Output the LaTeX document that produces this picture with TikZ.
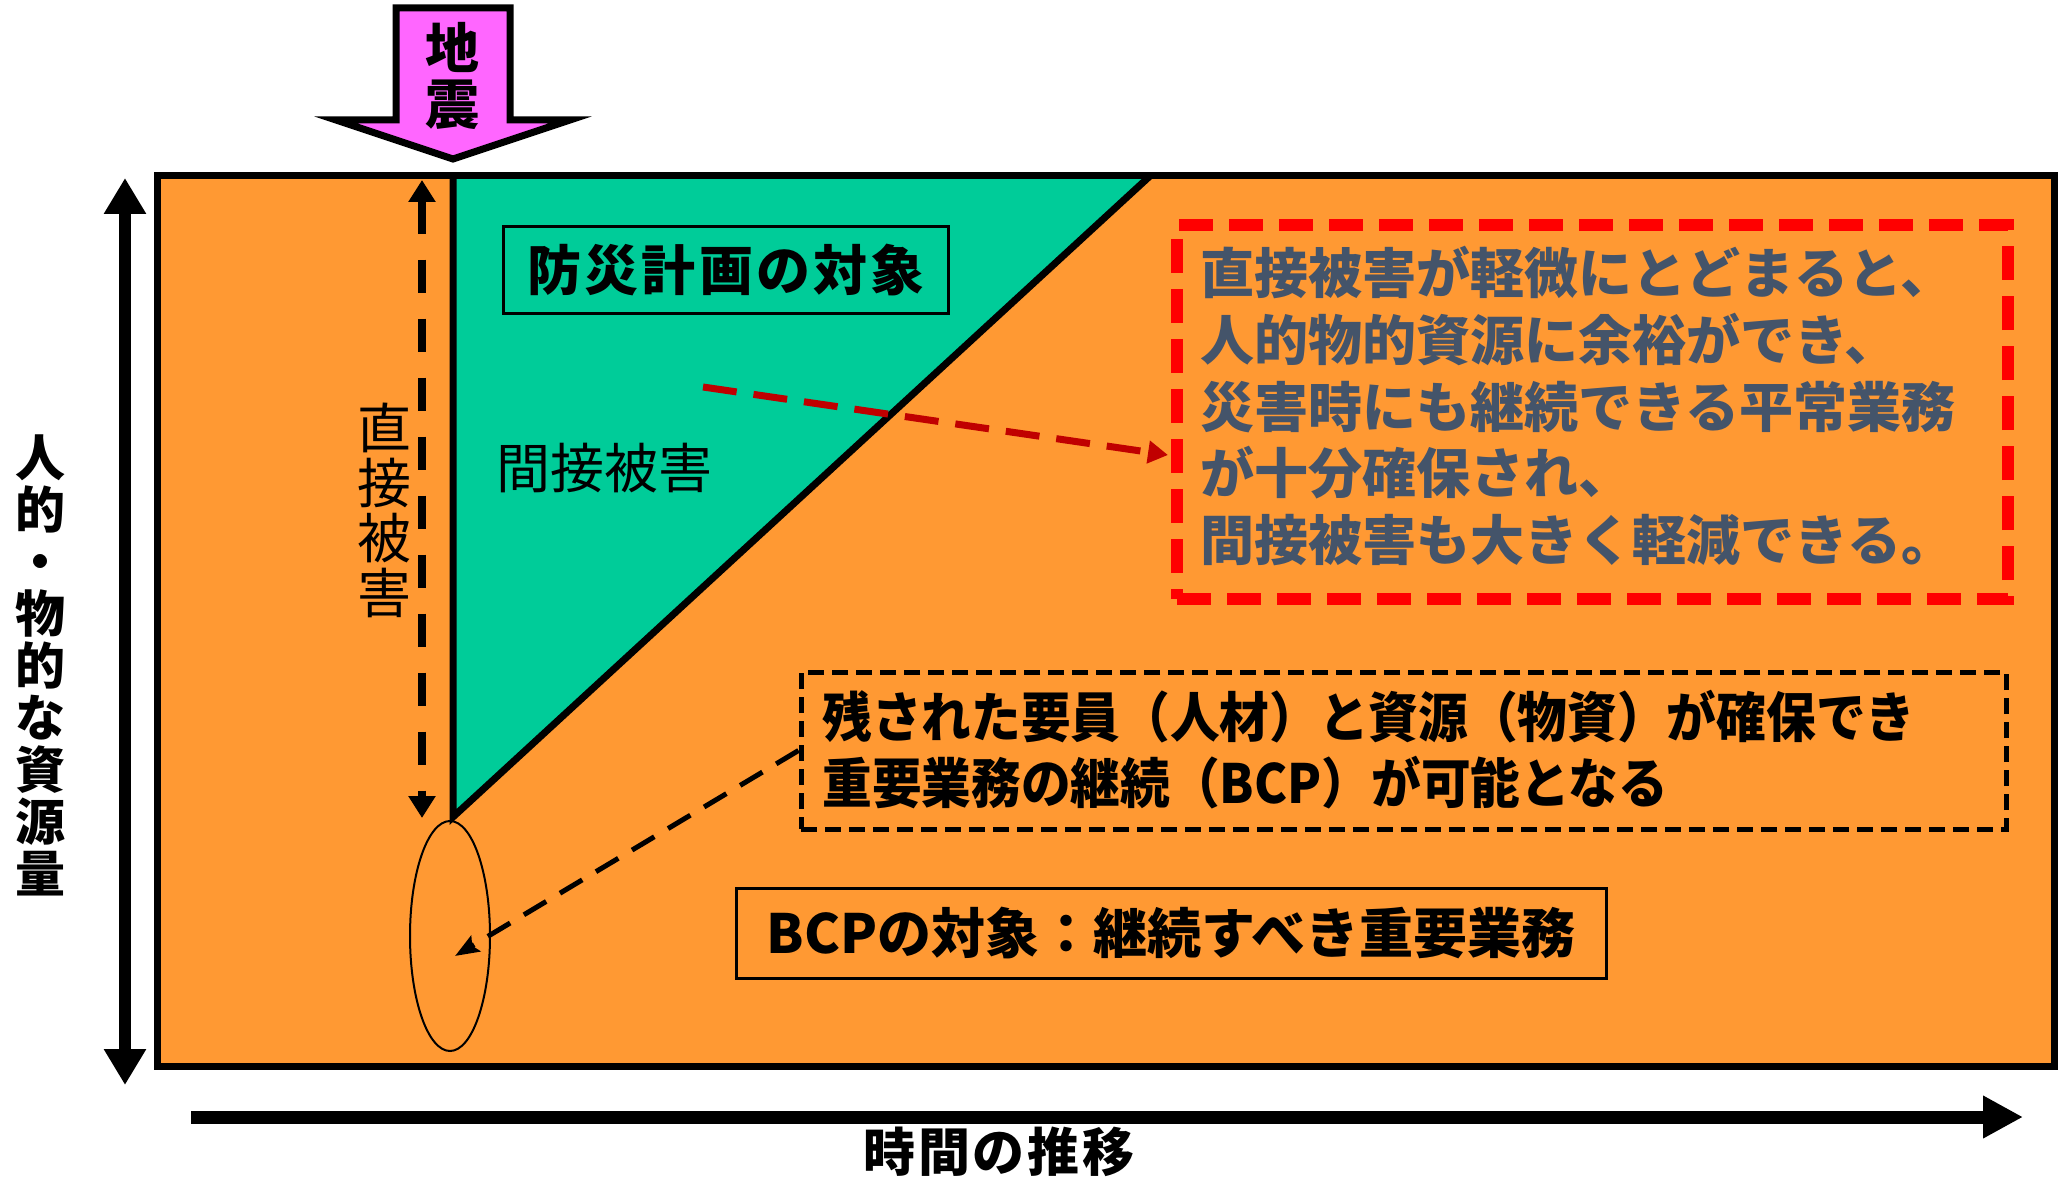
\documentclass[tikz,border=0pt]{standalone}
\usepackage{fontspec}
\setmainfont{Noto Sans CJK JP}
\usetikzlibrary{arrows.meta,shapes.geometric}
\definecolor{bgorange}{HTML}{FF9933}
\definecolor{tgreen}{HTML}{00CC99}
\definecolor{qpink}{HTML}{FF66FF}
\definecolor{slate}{HTML}{44546A}
\definecolor{dred}{HTML}{C00000}
\begin{document}
\begin{tikzpicture}[x=0.5pt,y=-0.5pt,
  boldtxt/.style={font=\fontsize{27}{28}\selectfont\bfseries},
  plaintxt/.style={font=\fontsize{27}{27.5}\selectfont},
  thinbox/.style={draw=black,line width=1.5pt,inner sep=0pt},
  thick/.style={line width=3.5pt}
]
\useasboundingbox (0,0) rectangle (2067,1182);
\fill[white] (0,0) rectangle (2067,1182);
% frame and green triangle
\coordinate (fTL) at (157,176);
\coordinate (fBR) at (2054,1066);
\fill[bgorange] (fTL) rectangle (fBR);
\coordinate (tA) at (453,176);
\coordinate (tB) at (1150,176);
\coordinate (tC) at (453,817);
\fill[tgreen] (tA) -- (tB) -- (tC) -- cycle;
\draw[thick] (fTL) rectangle (fBR);
\draw[thick, line join=miter] (tA) -- (tC) -- (tB);
% earthquake arrow
\draw[thick, fill=qpink, line join=miter, miter limit=12]
  (396,8) -- (510,8) -- (510,120) -- (570,120) -- (453,159) -- (336,120) -- (396,120) -- cycle;
\node[boldtxt, align=center] (quake) at (452,76) {地\\震};
% direct damage double arrow
\coordinate (dT) at (422,180);
\coordinate (dB) at (422,818);
\draw[line width=4pt, dash pattern=on 16.5pt off 13pt,
  {Triangle[width=13pt,length=11pt]}-{Triangle[width=13pt,length=11pt]}] (dT) -- (dB);
\node[plaintxt, align=center] (direct) at (384,510) {直\\接\\被\\害};
% disaster plan box
\node[thinbox, minimum width=222.5pt, minimum height=43.5pt,
  font=\fontsize{27}{28}\selectfont\bfseries\addfontfeature{LetterSpace=6}] (bousai) at (726,270) {防災計画の対象};
\node[plaintxt] (indirect) at (604,468) {間接被害};
% red box
\node[draw=red, line width=6pt, dash pattern=on 17pt off 8pt,
  minimum width=415.5pt, minimum height=187pt, inner sep=0pt] (rbox) at (1592.5,412) {};
\node[anchor=west, text=slate, align=left, inner sep=0pt,
  font=\fontsize{27}{33.4}\selectfont\bfseries] (rtext) at (1200,406)
  {直接被害が軽微にとどまると、\\人的物的資源に余裕ができ、\\災害時にも継続できる平常業務\\が十分確保され、\\間接被害も大きく軽減できる。};
% red arrow
\coordinate (rs) at (703,387);
\coordinate (re) at (1168,455);
\draw[dred, line width=3.5pt, dash pattern=on 17pt off 8.5pt,
  -{Triangle[width=11pt,length=10pt]}] (rs) -- (re);
% black dashed box
\node[draw, line width=2.5pt, dash pattern=on 8pt off 4pt,
  minimum width=602.5pt, minimum height=78.5pt, inner sep=0pt] (kbox) at (1403.5,750.5) {};
\node[anchor=west, inner sep=0pt, boldtxt] (kline1) at (822,717)
  {\scalebox{0.92}[1]{残された要員（人材）と資源（物資）が確保でき}};
\node[anchor=west, inner sep=0pt, boldtxt] (kline2) at (822,783)
  {\scalebox{0.92}[1]{重要業務の継続（BCP）が可能となる}};
% BCP box
\node[thinbox, minimum width=435pt, minimum height=45pt, boldtxt] (bcp) at (1171,933)
  {BCPの対象：継続すべき重要業務};
% ellipse
\node[draw, ellipse, line width=1pt, minimum width=40pt, minimum height=115pt, inner sep=0pt] (oval) at (450,936) {};
\coordinate (kend) at (455,956);
\draw[line width=2.5pt, dash pattern=on 13pt off 8pt,
  -{Stealth[width=9pt,length=12pt,inset=2pt]}] (kbox.west) -- (kend);
% y axis
\coordinate (yT) at (125,178);
\coordinate (yB) at (125,1085);
\draw[line width=6pt, {Triangle[width=20pt,length=18pt]}-{Triangle[width=20pt,length=18pt]}] (yT) -- (yB);
\node[font=\fontsize{25}{26}\selectfont\bfseries, align=center] (ylab) at (40,665)
  {人\\的\\・\\物\\的\\な\\資\\源\\量};
% x axis
\coordinate (xL) at (191,1117);
\coordinate (xR) at (2023,1117);
\draw[line width=6.5pt, -{Triangle[width=20pt,length=20pt]}] (xL) -- (xR);
\node[font=\fontsize{26}{27}\selectfont\bfseries\addfontfeature{LetterSpace=5}] (xlab) at (999,1152) {時間の推移};
\end{tikzpicture}
\end{document}
